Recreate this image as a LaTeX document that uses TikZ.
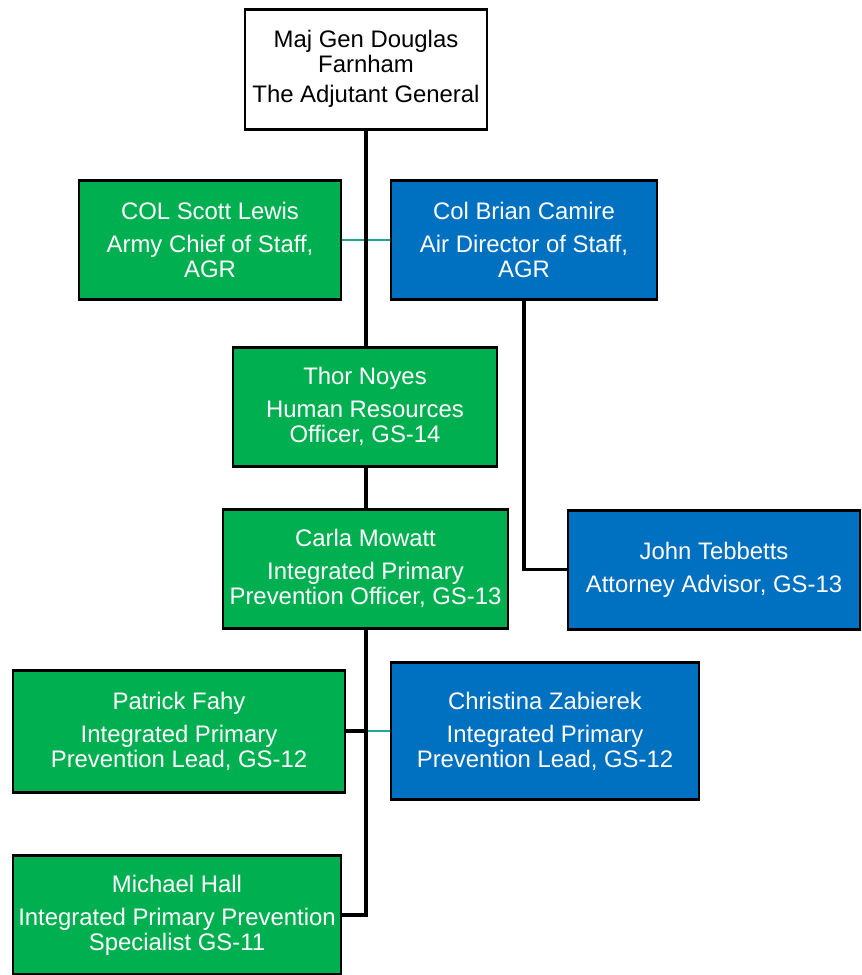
\documentclass[tikz,border=0pt]{standalone}
\usepackage{fontspec}
\setmainfont{Liberation Sans}
\usetikzlibrary{backgrounds}

\definecolor{orggreen}{HTML}{00B050}
\definecolor{orgblue}{HTML}{0070C0}
\definecolor{orgteal}{HTML}{1AA89A}

\newcommand{\entry}[2]{#1\\[4.5pt]#2}

\begin{document}
\begin{tikzpicture}[x=0.02cm,y=-0.02cm,
    person/.style={rectangle, draw=black, line width=1.7pt, align=center,
      inner sep=0pt, font=\fontsize{13.6}{14.3}\selectfont},
    greenbox/.style={person, fill=orggreen, text=white},
    bluebox/.style={person, fill=orgblue, text=white},
    link/.style={draw=black, line width=1.8pt},
    tealink/.style={draw=orgteal, line width=1.4pt}]
   \useasboundingbox (0,0) rectangle (862,975);

   \node[person, fill=white, minimum width=242*0.02cm, minimum height=120*0.02cm] (tag) at (366,69)
      {Maj Gen Douglas\\Farnham\\[3pt]The Adjutant General};
   \node[greenbox, minimum width=262*0.02cm, minimum height=119*0.02cm] (lewis) at (210,240)
      {\entry{COL Scott Lewis}{Army Chief of Staff,\\AGR}};
   \node[bluebox, minimum width=266*0.02cm, minimum height=119*0.02cm] (camire) at (524,240)
      {\entry{Col Brian Camire}{Air Director of Staff,\\AGR}};
   \node[greenbox, minimum width=264*0.02cm, minimum height=119*0.02cm] (noyes) at (365,406.5)
      {\entry{Thor Noyes}{Human Resources\\Officer, GS-14}};
   \node[greenbox, minimum width=285*0.02cm, minimum height=119*0.02cm] (mowatt) at (365.5,568.5)
      {\entry{Carla Mowatt}{Integrated Primary\\Prevention Officer, GS-13}};
   \node[bluebox, minimum width=292*0.02cm, minimum height=119*0.02cm] (tebbetts) at (714,569.5)
      {\entry{John Tebbetts}{Attorney Advisor, GS-13}};
   \node[greenbox, minimum width=332*0.02cm, minimum height=122*0.02cm] (fahy) at (179,731)
      {\entry{Patrick Fahy}{Integrated Primary\\Prevention Lead, GS-12}};
   \node[bluebox, minimum width=308*0.02cm, minimum height=137*0.02cm] (zabierek) at (545,731)
      {\entry{Christina Zabierek}{Integrated Primary\\Prevention Lead, GS-12}};
   \node[greenbox, minimum width=328*0.02cm, minimum height=119*0.02cm] (hall) at (177,915)
      {\entry{Michael Hall}{Integrated Primary Prevention\\Specialist GS-11}};

   % connectors behind the boxes
   \begin{scope}[on background layer]
      \path[tealink] (lewis.east) -- (camire.west);
      \path[tealink] (fahy.east) -- (zabierek.west);
      \path[link] (fahy.east) -- (fahy.east -| tag.south);
      \path[link] (tag.south) |- (hall.east);
      \path[link] (camire.south) |- (tebbetts.west);
   \end{scope}
\end{tikzpicture}
\end{document}
